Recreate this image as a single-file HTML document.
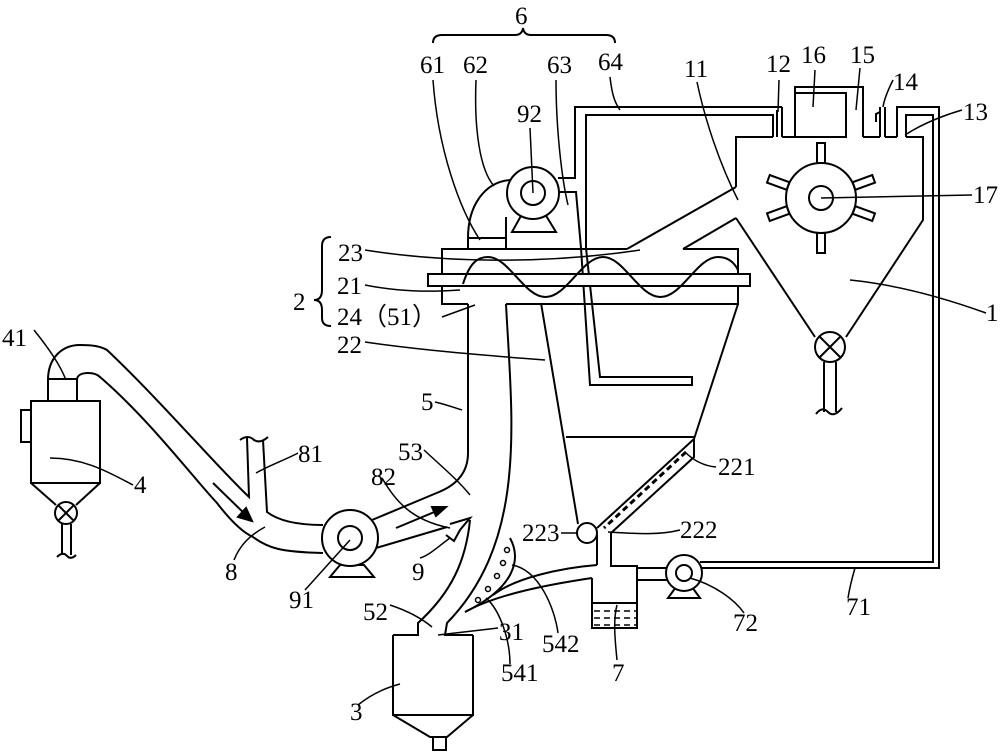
<!DOCTYPE html>
<html><head><meta charset="utf-8"><style>
html,body{margin:0;padding:0;background:#fff;}
svg{display:block;}
text{font-family:"Liberation Serif",serif;font-size:25px;fill:#000;}
</style></head><body>
<svg width="1000" height="753" viewBox="0 0 1000 753" xmlns="http://www.w3.org/2000/svg" fill="none" stroke="#000" stroke-width="2">
<!-- separator 1 -->
<path d="M736 187 L736 137 L773 137 M782 137 L795 137 M863 137 L880 137 M885 137 L897 137 M906 137 L923 137 L923 220 L846 337"/>
<path d="M736 187 L627 249 M736 218 L683 249 M736 218 L815 337"/>
<circle cx="830" cy="347" r="15"/>
<path d="M819 336 L841 358 M841 336 L819 358"/>
<path d="M824 362 L824 412 M836 362 L836 412 M816 414 Q822 406 828 412 Q834 418 842 408"/>
<!-- rotor 17 -->
<circle cx="821" cy="198" r="35" fill="#fff"/>
<circle cx="821" cy="198" r="12"/>
<g stroke-width="2">
<rect x="817" y="143" width="8" height="20"/>
<rect x="817" y="233" width="8" height="20"/>
<g transform="rotate(-20 821 198)"><rect x="765" y="194" width="21" height="8"/><rect x="856" y="194" width="21" height="8"/></g>
<g transform="rotate(20 821 198)"><rect x="765" y="194" width="21" height="8"/><rect x="856" y="194" width="21" height="8"/></g>
</g>
<!-- top boxes -->
<path d="M795 137 L795 87 L863 87 L863 137 M795 93 L846 93 L846 137 L795 137"/>
<path d="M880 137 L880 107 M885 137 L885 107 M880 112 L876 114 L876 122"/>
<path d="M777 110 L777 137 M782 107 L782 137"/>
<!-- pipe 13 / 71 -->
<path d="M897 137 L897 107 L939 107 L939 568 L700 568 M906 137 L906 115 L933 115 L933 562 L700 562"/>
<!-- pipe 64 / 63 -->
<path d="M782 107 L575 107 L575 178 L558 178"/>
<path d="M558 192 L576 192 L581 248 L590 385 L692 385 L692 377 L600 377 L586 248 L586 115 L773 115 L773 137"/>
<!-- fan 92 -->
<path d="M510 180 C485 182 468 205 468 238 M506 217 L506 238"/>
<rect x="468" y="238" width="38" height="11"/>
<path d="M512 232 L556 232 L545 214 L522 214 Z"/>
<circle cx="533" cy="193" r="26" fill="#fff"/>
<circle cx="533" cy="193" r="12"/>
<!-- screw housing 2 -->
<path d="M627 249 L442 249 L442 304 L468 304 M506 304 L738 304 L738 249 L683 249"/>
<rect x="428" y="274" width="322" height="12" fill="#fff"/>
<path d="M463 284 C470 262 478 257 488 257 C509 257 524 297 545.5 297 C567 297 582 257 603 257 C624 257 639 297 660.5 297 C682 297 697 257 718 257 C728 257 734 262 738 270"/>
<!-- hopper 22 -->
<path d="M738 304 L694 439 L694 457 L611 533 L611 566 L637 566 L637 628 L592 628 L592 578"/>
<path d="M694 439 L597 528 M566 437 L694 437 M541 303 L578 524"/>
<path d="M686 452 L604 528" stroke-dasharray="6 4" stroke-width="3"/>
<circle cx="587" cy="533" r="10" fill="#fff"/>
<path d="M597 535 L597 565"/>
<!-- tank 7 liquid -->
<path d="M592 603 L637 603"/>
<path d="M594 611 L636 611 M594 618 L636 618 M594 625 L636 625" stroke-dasharray="6 4" stroke-width="1.5"/>
<!-- fan 72 -->
<path d="M637 568 L667 568 M637 580 L667 580"/>
<path d="M668 598 L700 598 L692 587 L676 587 Z"/>
<circle cx="684" cy="573" r="18" fill="#fff"/>
<circle cx="684" cy="573" r="8"/>
<!-- pipe 5 -->
<path d="M468 304 L468 453 Q468 480 439 492 L372 520"/>
<path d="M506 304 C512 420 528 540 447 623 L445 635 L473 635"/>
<path d="M470 520 C466 560 452 592 418 623 L418 635 L393 635"/>
<path d="M393 635 L393 715 L473 715 L473 635 M393 715 L430 737 L447 737 L473 715"/>
<rect x="433" y="737" width="13" height="13"/>
<!-- pipe 54 -->
<path d="M597 565 C560 568 515 578 493 595 M592 578 C545 585 495 595 465 612"/>
<path d="M510 538 C522 560 514 588 465 612"/>
<g stroke-width="1.5"><circle cx="507" cy="550" r="2.5"/><circle cx="503" cy="563" r="2.5"/><circle cx="497" cy="576" r="2.5"/><circle cx="488" cy="589" r="2.5"/><circle cx="478" cy="600" r="2.5"/></g>
<!-- filter 4 -->
<rect x="31" y="401" width="69" height="82"/>
<rect x="21" y="410" width="10" height="32"/>
<rect x="48" y="379" width="29" height="22"/>
<path d="M31 483 L56 505 M100 483 L76 505"/>
<circle cx="66" cy="513" r="11"/>
<path d="M58 505 L74 521 M74 505 L58 521"/>
<path d="M62 524 L62 555 M71 524 L71 555 M57 557 Q63 551 67 556 Q71 560 76 555"/>
<!-- pipe 8 -->
<path d="M48 380 C48 358 62 345 80 345 C92 345 100 346 107 350 C160 400 220 470 249 497 L247 438"/>
<path d="M77 380 C77 375 82 373 88 373 C94 373 98 375 100 377 C150 420 195 480 217 503 C230 520 242 532 253 537 C268 548 280 552 323 553"/>
<path d="M263 440 L267 512 C280 522 300 525 323 525"/>
<path d="M240 440 Q248 434 254 440 Q260 444 268 437"/>
<!-- arrows -->
<path d="M213 483 L248 517"/>
<path d="M252 521 L238 517 L246 508 Z" fill="#000"/>
<path d="M396 528 L444 508"/>
<path d="M446 507 L432 507 L436 516 Z" fill="#000"/>
<!-- fan 91 -->
<path d="M330 577 L374 577 L364 565 L340 565 Z"/>
<circle cx="350" cy="538" r="28" fill="#fff"/>
<circle cx="350" cy="538" r="12"/>
<path d="M376 548 L447 527"/>
<path d="M450 524 L470 518 L460 530 L454 541 L446 535"/>
<!-- braces -->
<path d="M433 43 Q433 35 442 35 L515 35 Q522 35 523 28 Q524 35 531 35 L606 35 Q615 35 615 43"/>
<path d="M331 237 Q322 237 322 246 L322 290 Q322 300 314 300 Q322 300 322 310 L322 318 Q322 326 331 326"/>
<!-- leader lines -->
<g stroke-width="1.5">
<path d="M433 80 C438 150 460 210 480 240"/>
<path d="M476 80 C474 130 480 170 494 186"/>
<path d="M556 80 C556 130 562 180 568 205"/>
<path d="M610 77 C612 95 615 103 620 110"/>
<path d="M530 128 L533 193"/>
<path d="M697 82 C705 120 720 165 738 200"/>
<path d="M779 80 L778 112"/>
<path d="M815 70 L813 107"/>
<path d="M860 68 L856 110"/>
<path d="M893 80 C888 90 884 100 883 107"/>
<path d="M962 110 C945 115 925 122 905 135"/>
<path d="M972 195 L821 198"/>
<path d="M986 313 C950 300 900 285 850 280"/>
<path d="M365 250 C440 262 540 265 640 250"/>
<path d="M365 285 C400 292 430 292 460 290"/>
<path d="M442 317 L475 305"/>
<path d="M365 342 C420 350 480 355 545 360"/>
<path d="M34 330 C50 350 60 365 66 380"/>
<path d="M133 485 C110 473 85 458 50 458"/>
<path d="M298 453 C285 460 270 465 256 473"/>
<path d="M382 478 C395 500 410 520 450 528"/>
<path d="M424 450 C440 465 458 480 470 495"/>
<path d="M435 402 C448 405 455 408 462 410"/>
<path d="M234 560 C240 545 250 535 265 527"/>
<path d="M305 590 L350 540"/>
<path d="M420 558 C430 555 440 545 450 538"/>
<path d="M390 605 C405 610 420 617 432 627"/>
<path d="M498 628 C480 630 465 632 438 635"/>
<path d="M558 633 C555 610 540 570 512 565"/>
<path d="M510 664 C510 640 500 610 486 598"/>
<path d="M617 660 C615 640 613 620 617 605"/>
<path d="M561 533 L577 533"/>
<path d="M680 530 C660 535 640 534 608 532"/>
<path d="M716 467 C705 466 695 462 685 452"/>
<path d="M744 613 C735 600 715 585 690 578"/>
<path d="M848 598 C850 585 853 575 855 568"/>
<path d="M358 705 C370 695 385 688 400 684"/>
</g>
<!-- labels -->
<g stroke="none">
<text x="515" y="24">6</text>
<text x="420" y="73">61</text>
<text x="463" y="73">62</text>
<text x="547" y="73">63</text>
<text x="598" y="70">64</text>
<text x="517" y="122">92</text>
<text x="684" y="77">11</text>
<text x="766" y="72">12</text>
<text x="801" y="63">16</text>
<text x="850" y="63">15</text>
<text x="893" y="90">14</text>
<text x="963" y="120">13</text>
<text x="973" y="203">17</text>
<text x="986" y="321">1</text>
<text x="338" y="261">23</text>
<text x="337" y="294">21</text>
<text x="293" y="310">2</text>
<text x="337" y="325">24（51）</text>
<text x="337" y="353">22</text>
<text x="2" y="346">41</text>
<text x="134" y="493">4</text>
<text x="298" y="462">81</text>
<text x="371" y="485">82</text>
<text x="398" y="460">53</text>
<text x="421" y="410">5</text>
<text x="225" y="580">8</text>
<text x="289" y="608">91</text>
<text x="412" y="580">9</text>
<text x="363" y="620">52</text>
<text x="499" y="640">31</text>
<text x="542" y="652">542</text>
<text x="501" y="681">541</text>
<text x="612" y="681">7</text>
<text x="522" y="541">223</text>
<text x="680" y="538">222</text>
<text x="718" y="475">221</text>
<text x="733" y="631">72</text>
<text x="846" y="615">71</text>
<text x="350" y="720">3</text>
</g>
</svg>
</body></html>
